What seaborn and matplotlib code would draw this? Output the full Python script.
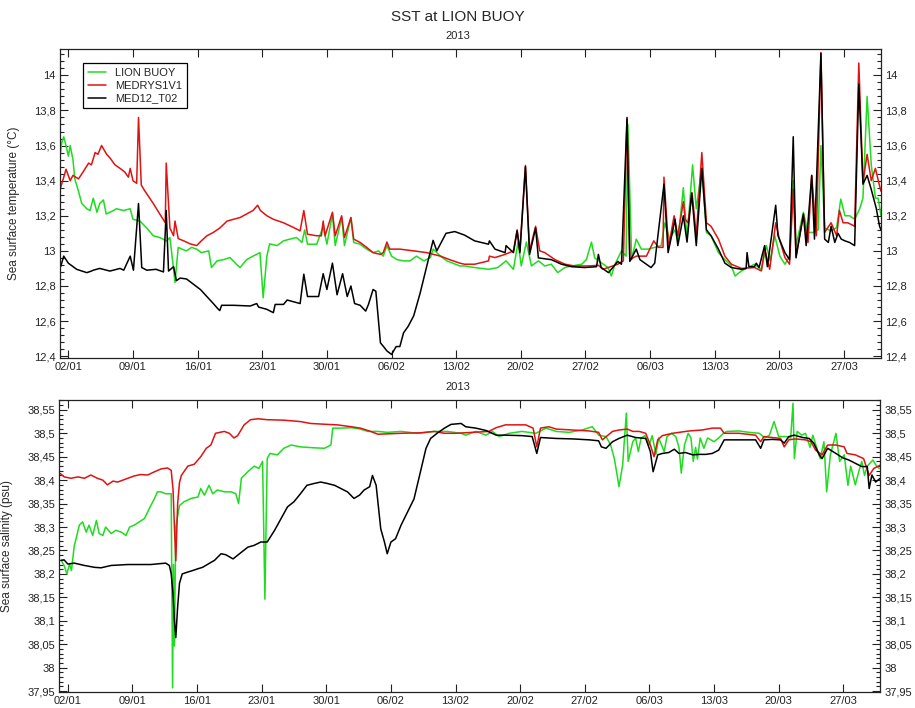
import matplotlib
matplotlib.use("Agg")
import matplotlib.pyplot as plt
import matplotlib.dates as mdates
from matplotlib.ticker import FuncFormatter, MultipleLocator, AutoMinorLocator, FixedLocator
from matplotlib.patches import Rectangle
import pandas as pd
import seaborn as sns

# ---------------------------------------------------------------------------
# Data: time in days since 2013-01-01 00:00, values as read from the series
# ---------------------------------------------------------------------------
series_names = ["LION BUOY", "MEDRYS1V1", "MED12_T02"]
series_colors = ["#1fdc1f", "#e01212", "#000000"]

# Sea surface temperature (deg C)
sst_buoy_day = [0.1, 0.3, 0.5, 0.75, 1.0, 1.2, 1.5, 1.7, 2.1, 2.45, 3.0, 3.35, 3.7, 4.1, 4.4, 4.8, 5.1, 5.9,
                6.2, 7.0, 7.7, 8.0, 8.75, 9.5, 10.2, 10.9, 11.65, 12.0, 12.4, 12.55, 12.9, 13.3, 13.8, 14.35,
                14.9, 15.4, 16.2, 16.5, 17.1, 17.8, 18.5, 19.2, 19.6, 20.3, 21.0, 21.75, 22.1, 22.5, 22.8,
                23.6, 24.3, 25.0, 25.7, 26.3, 26.6, 26.9, 27.9, 28.6, 29.0, 29.6, 29.9, 30.6, 30.9, 31.6,
                31.9, 32.6, 33.3, 34.0, 34.6, 35.1, 35.5, 36.0, 36.6, 37.3, 38.0, 38.7, 39.5, 40.2, 40.5,
                41.3, 42.0, 43.4, 43.9, 45.0, 46.5, 47.5, 48.4, 49.2, 49.7, 50.05, 50.6, 51.15, 51.9, 52.6,
                53.3, 54.0, 54.75, 55.5, 56.6, 57.1, 57.65, 58.0, 58.7, 59.45, 59.8, 60.2, 60.9, 61.4, 61.6,
                62.0, 62.5, 63.05, 63.8, 64.5, 65.2, 65.6, 66.1, 66.7, 67.0, 67.6, 68.0, 68.6, 69.0, 69.6,
                70.1, 70.6, 71.4, 72.1, 72.8, 73.2, 73.9, 74.6, 75.3, 76.05, 76.6, 77.0, 77.5, 78.05, 78.6,
                79.1, 79.5, 79.8, 80.6, 81.1, 81.65, 82.2, 82.5, 82.9, 83.6, 84.2, 84.65, 85.1, 85.6, 86.15,
                86.7, 87.05, 87.5, 87.95, 88.4, 88.7, 89.0]
sst_buoy = [13.54, 13.62, 13.65, 13.6, 13.54, 13.6, 13.52, 13.41, 13.34, 13.27, 13.24, 13.23, 13.3, 13.22,
            13.27, 13.29, 13.21, 13.23, 13.24, 13.23, 13.24, 13.18, 13.17, 13.13, 13.086, 13.076, 13.057,
            13.076, 12.895, 12.82, 13.02, 13.01, 13.0, 13.02, 13.01, 12.99, 13.0, 12.905, 12.943, 12.95,
            12.962, 12.924, 12.905, 12.95, 12.97, 12.99, 12.733, 12.97, 13.04, 13.03, 13.057, 13.067,
            13.076, 13.048, 13.12, 13.038, 13.038, 13.14, 13.038, 13.21, 13.03, 13.19, 13.03, 13.19,
            13.048, 13.038, 13.01, 12.99, 13.0, 12.97, 13.03, 12.97, 12.95, 12.943, 12.943, 12.97, 12.943,
            12.962, 13.01, 12.97, 12.943, 12.914, 12.914, 12.905, 12.895, 12.905, 12.943, 12.895, 13.05,
            12.914, 13.05, 12.914, 12.943, 12.914, 12.924, 12.876, 12.905, 12.914, 12.924, 12.95, 13.05,
            12.96, 12.933, 12.905, 12.857, 12.924, 13.0, 12.97, 13.72, 12.95, 13.067, 13.01, 13.01, 13.02,
            13.03, 13.16, 13.067, 13.12, 13.048, 13.36, 13.067, 13.49, 13.24, 13.47, 13.105, 13.086, 12.99,
            12.95, 12.914, 12.857, 12.886, 12.905, 12.924, 12.895, 13.03, 12.943, 13.086, 12.97, 12.924,
            12.97, 13.4, 13.03, 13.22, 13.105, 13.105, 13.12, 13.6, 13.13, 13.114, 13.133, 13.295, 13.2,
            13.2, 13.18, 13.24, 13.3, 13.88, 13.49, 13.3, 13.3, 13.2]

sst_medrys_day = [0.1, 0.45, 0.75, 1.2, 1.5, 2.1, 2.6, 3.2, 3.5, 3.9, 4.2, 4.6, 5.15, 5.5, 6.05, 6.6, 7.1, 7.5,
                  7.7, 8.0, 8.4, 8.6, 8.9, 9.3, 10.2, 10.9, 11.5, 11.6, 12.0, 12.4, 12.55, 12.9, 13.5, 14.2,
                  14.9, 15.4, 16.0, 16.7, 17.4, 18.2, 18.9, 19.6, 20.3, 21.0, 21.5, 21.8, 22.5, 23.2, 24.3,
                  25.4, 26.1, 26.5, 26.9, 27.9, 28.4, 28.6, 28.8, 29.6, 29.9, 30.6, 30.9, 31.6, 31.9, 32.6,
                  33.3, 34.0, 34.8, 35.1, 35.5, 35.8, 36.9, 38.4, 39.8, 41.3, 42.3, 43.4, 43.9, 45.0, 45.7,
                  46.5, 46.6, 47.2, 48.3, 49.2, 49.6, 49.9, 50.5, 50.95, 51.6, 52.05, 52.6, 53.7, 54.8, 55.8,
                  57.3, 58.4, 58.9, 59.45, 60.5, 61.1, 61.5, 61.8, 62.5, 63.6, 64.4, 64.9, 65.4, 65.5, 66.0,
                  66.6, 67.0, 67.6, 67.8, 68.1, 68.55, 69.0, 69.6, 70.1, 70.6, 71.4, 72.1, 72.8, 73.9, 75.3,
                  76.05, 76.4, 76.95, 77.6, 78.0, 78.6, 79.1, 79.5, 79.8, 80.6, 81.1, 81.5, 82.0, 82.5, 82.9,
                  83.6, 84.2, 84.5, 84.9, 85.4, 85.8, 86.15, 86.6, 87.05, 87.5, 87.95, 88.4, 88.85, 89.0]
sst_medrys = [13.35, 13.41, 13.465, 13.4, 13.43, 13.41, 13.45, 13.5, 13.49, 13.56, 13.55, 13.6, 13.55, 13.53,
              13.49, 13.47, 13.45, 13.42, 13.47, 13.4, 13.385, 13.76, 13.375, 13.34, 13.27, 13.21, 13.16,
              13.5, 13.13, 13.086, 13.17, 13.07, 13.057, 13.04, 13.03, 13.057, 13.086, 13.105, 13.13, 13.17,
              13.18, 13.19, 13.21, 13.23, 13.26, 13.23, 13.2, 13.18, 13.16, 13.133, 13.114, 13.23, 13.095,
              13.086, 13.086, 13.17, 13.086, 13.22, 13.086, 13.2, 13.076, 13.19, 13.067, 13.048, 13.02,
              12.99, 12.98, 12.99, 13.05, 13.01, 13.01, 13.0, 12.99, 12.97, 12.95, 12.93, 12.924, 12.924,
              12.933, 12.943, 12.97, 12.962, 12.98, 13.0, 13.12, 13.0, 13.487, 13.0, 13.14, 13.0, 12.99,
              12.95, 12.924, 12.914, 12.914, 12.918, 12.895, 12.905, 12.924, 12.943, 13.75, 12.95, 12.97,
              12.97, 13.057, 13.02, 13.02, 13.42, 13.02, 13.2, 13.086, 13.28, 13.18, 13.16, 13.33, 13.086,
              13.56, 13.16, 13.14, 13.067, 12.97, 12.924, 12.9, 12.905, 12.886, 13.01, 12.895, 13.16, 13.067,
              12.962, 12.924, 13.35, 12.97, 13.2, 13.048, 13.43, 13.086, 14.13, 13.105, 13.16, 13.086, 13.23,
              13.16, 13.16, 13.15, 13.14, 14.07, 13.39, 13.55, 13.4, 13.47, 13.37, 13.34]

sst_med12_day = [0.17, 0.5, 1.0, 1.9, 3.0, 3.5, 3.7, 4.4, 5.5, 6.6, 7.0, 7.7, 8.05, 8.6, 8.95, 9.5, 10.5, 11.3,
                 11.6, 11.85, 12.4, 12.7, 13.1, 13.8, 15.3, 16.0, 16.7, 17.2, 17.4, 17.6, 18.9, 20.7, 21.4,
                 21.6, 22.5, 23.2, 23.4, 24.3, 24.7, 26.1, 26.5, 26.9, 28.1, 28.6, 29.0, 29.6, 30.1, 30.7,
                 31.2, 31.6, 32.0, 32.6, 33.2, 33.5, 34.0, 34.3, 34.8, 35.1, 35.5, 36.0, 36.5, 36.9, 37.3,
                 37.8, 38.4, 39.1, 39.8, 40.5, 40.9, 41.9, 42.85, 43.9, 45.0, 46.5, 46.6, 47.2, 48.3, 48.4,
                 49.2, 49.6, 49.9, 50.5, 50.95, 51.6, 51.9, 53.3, 54.4, 55.5, 56.9, 58.2, 58.4, 58.7, 59.5,
                 59.8, 60.5, 60.9, 61.5, 61.8, 62.5, 62.9, 64.1, 64.5, 65.5, 65.95, 66.7, 67.0, 67.6, 68.0,
                 68.5, 69.0, 69.6, 70.1, 70.6, 71.4, 72.1, 72.8, 73.9, 74.4, 74.5, 74.7, 75.3, 75.5, 75.8,
                 76.4, 76.7, 77.6, 77.85, 78.6, 79.1, 79.5, 79.8, 80.6, 80.9, 81.5, 81.8, 82.5, 82.9, 83.3,
                 83.6, 84.0, 84.35, 84.7, 85.1, 85.6, 86.15, 86.6, 87.05, 87.5, 87.95, 88.5, 88.85, 89.0]
sst_med12 = [12.91, 12.97, 12.93, 12.895, 12.876, 12.885, 12.89, 12.9, 12.885, 12.9, 12.89, 12.97, 12.89,
             13.27, 12.905, 12.89, 12.895, 12.88, 13.23, 12.885, 12.91, 12.83, 12.845, 12.84, 12.78, 12.74,
             12.7, 12.67, 12.66, 12.69, 12.69, 12.686, 12.7, 12.68, 12.667, 12.648, 12.695, 12.695, 12.72,
             12.7, 12.867, 12.74, 12.74, 12.87, 12.78, 12.93, 12.75, 12.87, 12.74, 12.8, 12.7, 12.69,
             12.657, 12.695, 12.78, 12.77, 12.476, 12.457, 12.43, 12.41, 12.455, 12.455, 12.533, 12.57,
             12.63, 12.76, 12.91, 13.06, 13.0, 13.1, 13.11, 13.09, 13.057, 13.038, 13.057, 13.01, 12.99,
             13.03, 12.99, 13.114, 12.99, 13.48, 12.98, 13.13, 12.96, 12.95, 12.924, 12.91, 12.905, 12.91,
             12.98, 12.905, 12.876, 12.895, 12.94, 12.924, 13.76, 12.94, 13.01, 12.95, 12.905, 12.93, 13.38,
             12.99, 13.18, 13.03, 13.2, 13.05, 13.33, 13.03, 13.47, 13.12, 13.086, 13.01, 12.93, 12.905,
             12.895, 12.9, 12.99, 12.91, 12.91, 12.93, 12.905, 13.03, 12.91, 13.26, 13.086, 12.99, 12.95,
             13.65, 12.96, 13.21, 13.03, 13.43, 13.067, 14.125, 13.067, 13.048, 13.14, 13.048, 13.1, 13.067,
             13.057, 13.048, 13.03, 13.95, 13.38, 13.43, 13.35, 13.24, 13.14, 13.12]

# Sea surface salinity (psu)
sss_buoy_day = [0.27, 0.6, 0.9, 1.2, 1.4, 1.7, 1.9, 2.25, 2.6, 3.0, 3.3, 3.7, 4.1, 4.4, 4.8, 5.1, 5.7, 6.2, 6.8,
                7.3, 7.7, 8.2, 8.75, 9.3, 9.65, 10.0, 10.4, 10.7, 11.1, 11.6, 12.2, 12.35, 12.45, 12.55, 12.7,
                13.1, 13.6, 14.35, 15.1, 15.4, 15.8, 16.3, 16.7, 17.2, 18.0, 18.7, 19.2, 19.5, 19.8, 20.5,
                21.2, 21.7, 22.1, 22.35, 22.6, 22.9, 23.7, 24.4, 25.2, 26.2, 27.7, 28.8, 29.5, 29.7, 30.6,
                31.7, 32.7, 33.5, 34.6, 35.6, 37.1, 38.9, 40.7, 42.1, 43.6, 44.1, 45.2, 46.3, 47.0, 47.7,
                48.8, 50.2, 51.7, 52.8, 53.9, 55.3, 56.7, 57.8, 58.2, 58.5, 59.3, 59.8, 60.2, 60.5, 60.7,
                61.1, 61.25, 61.5, 61.7, 62.2, 62.5, 62.8, 63.1, 63.5, 63.96, 64.3, 64.7, 65.0, 65.6, 65.9,
                66.4, 66.85, 67.2, 67.45, 67.8, 68.2, 68.5, 68.75, 69.0, 69.2, 69.5, 69.9, 70.3, 71.0, 71.5,
                72.0, 72.4, 73.7, 74.8, 75.9, 76.5, 77.0, 77.5, 78.0, 78.8, 79.3, 79.55, 79.7, 80.0, 80.5,
                80.9, 81.4, 81.7, 82.2, 82.5, 82.9, 83.2, 83.6, 84.2, 84.6, 85.1, 85.5, 85.8, 86.3, 86.7,
                87.0, 87.3, 87.6, 88.2, 88.6, 88.9]
sss_buoy = [38.229, 38.218, 38.2, 38.221, 38.207, 38.26, 38.275, 38.304, 38.311, 38.289, 38.304, 38.282,
            38.314, 38.286, 38.282, 38.3, 38.286, 38.293, 38.289, 38.282, 38.3, 38.304, 38.311, 38.318,
            38.332, 38.346, 38.361, 38.375, 38.375, 38.371, 38.371, 37.957, 38.22, 38.046, 38.3, 38.346,
            38.354, 38.361, 38.364, 38.382, 38.368, 38.389, 38.371, 38.379, 38.375, 38.375, 38.371, 38.35,
            38.404, 38.418, 38.43, 38.425, 38.44, 38.146, 38.446, 38.457, 38.454, 38.468, 38.475, 38.471,
            38.469, 38.468, 38.475, 38.511, 38.511, 38.512, 38.509, 38.504, 38.504, 38.502, 38.504, 38.5,
            38.504, 38.504, 38.5, 38.496, 38.504, 38.496, 38.504, 38.493, 38.5, 38.504, 38.5, 38.511,
            38.504, 38.502, 38.507, 38.514, 38.504, 38.496, 38.493, 38.475, 38.446, 38.411, 38.386, 38.432,
            38.475, 38.543, 38.44, 38.482, 38.49, 38.461, 38.49, 38.495, 38.475, 38.495, 38.455, 38.49,
            38.461, 38.493, 38.5, 38.493, 38.47, 38.415, 38.475, 38.5, 38.49, 38.44, 38.47, 38.445, 38.49,
            38.468, 38.49, 38.482, 38.49, 38.5, 38.504, 38.505, 38.502, 38.5, 38.49, 38.496, 38.525,
            38.493, 38.493, 38.49, 38.564, 38.446, 38.504, 38.496, 38.5, 38.47, 38.496, 38.464, 38.446,
            38.482, 38.375, 38.454, 38.5, 38.44, 38.454, 38.389, 38.43, 38.39, 38.42, 38.44, 38.41, 38.43,
            38.443, 38.43, 38.425]

sss_medrys_day = [0.2, 0.6, 1.35, 2.1, 2.8, 3.5, 4.2, 4.8, 5.3, 5.9, 6.4, 7.5, 8.2, 8.9, 9.65, 10.4, 11.1, 11.8,
                  12.2, 12.4, 12.55, 12.7, 12.9, 13.1, 13.3, 14.0, 14.7, 15.4, 16.0, 16.5, 17.0, 17.95, 18.5,
                  19.0, 19.4, 20.1, 20.8, 21.6, 22.6, 24.4, 26.2, 27.3, 29.1, 30.2, 31.7, 32.7, 33.8, 34.6,
                  37.1, 39.2, 40.7, 41.8, 43.03, 46.6, 47.4, 48.4, 49.5, 50.6, 51.4, 51.8, 52.2, 53.1, 53.9,
                  55.7, 57.5, 58.5, 58.9, 59.45, 60.0, 60.7, 61.6, 62.2, 62.9, 63.6, 64.1, 64.5, 64.9, 65.4,
                  66.5, 68.3, 69.7, 70.8, 71.7, 72.1, 73.7, 75.5, 76.05, 76.4, 77.3, 78.2, 78.6, 79.1, 79.8,
                  80.9, 81.5, 82.0, 82.7, 83.3, 84.2, 85.1, 85.4, 86.3, 87.2, 87.8, 88.3, 89.0]
sss_medrys = [38.414, 38.407, 38.404, 38.407, 38.404, 38.411, 38.404, 38.4, 38.39, 38.398, 38.396, 38.404,
              38.409, 38.412, 38.411, 38.418, 38.424, 38.426, 38.421, 38.38, 38.3, 38.228, 38.35, 38.395,
              38.41, 38.43, 38.434, 38.45, 38.468, 38.475, 38.5, 38.504, 38.5, 38.49, 38.495, 38.518,
              38.529, 38.531, 38.529, 38.528, 38.525, 38.521, 38.519, 38.518, 38.514, 38.511, 38.504,
              38.498, 38.5, 38.501, 38.504, 38.5, 38.5, 38.504, 38.512, 38.518, 38.518, 38.518, 38.511,
              38.471, 38.511, 38.514, 38.509, 38.507, 38.505, 38.502, 38.486, 38.495, 38.504, 38.507,
              38.509, 38.504, 38.504, 38.5, 38.475, 38.45, 38.486, 38.495, 38.5, 38.505, 38.507, 38.511,
              38.511, 38.5, 38.5, 38.496, 38.482, 38.493, 38.491, 38.489, 38.471, 38.486, 38.488, 38.486,
              38.482, 38.464, 38.454, 38.475, 38.475, 38.471, 38.457, 38.454, 38.446, 38.41, 38.425, 38.432]

sss_med12_day = [0.27, 0.6, 1.0, 1.7, 2.8, 3.9, 4.6, 5.7, 7.5, 10.0, 11.6, 12.0, 12.2, 12.4, 12.55, 12.7, 12.9,
                 13.1, 13.4, 14.0, 14.5, 15.1, 15.6, 16.2, 16.9, 17.4, 17.6, 18.1, 18.9, 19.6, 20.5, 21.2,
                 21.9, 22.6, 23.4, 24.1, 24.8, 25.5, 26.2, 26.9, 27.7, 28.4, 29.1, 29.9, 30.6, 31.3, 32.0,
                 32.6, 33.1, 33.7, 34.0, 34.4, 34.9, 35.3, 35.6, 36.0, 36.5, 37.1, 37.8, 38.5, 39.2, 39.8,
                 40.3, 41.0, 41.8, 42.5, 43.6, 44.1, 45.2, 46.3, 47.4, 48.4, 50.2, 51.3, 51.8, 52.2, 53.9,
                 55.7, 57.5, 58.5, 58.8, 59.3, 60.0, 60.7, 61.6, 62.5, 63.6, 64.1, 64.4, 64.9, 65.4, 66.1,
                 66.7, 67.2, 67.9, 68.7, 69.4, 70.1, 70.8, 71.5, 72.1, 73.7, 75.5, 76.05, 76.4, 77.3, 78.2,
                 78.6, 79.1, 79.7, 80.6, 81.3, 81.8, 82.4, 82.7, 83.3, 84.2, 84.9, 85.6, 86.3, 87.0, 87.6,
                 87.8, 88.1, 88.5, 89.0]
sss_med12 = [38.229, 38.23, 38.221, 38.223, 38.218, 38.214, 38.213, 38.218, 38.22, 38.22, 38.223, 38.218,
             38.2, 38.157, 38.1, 38.064, 38.13, 38.18, 38.2, 38.204, 38.207, 38.211, 38.214, 38.221, 38.229,
             38.239, 38.243, 38.241, 38.232, 38.243, 38.257, 38.261, 38.268, 38.268, 38.293, 38.318, 38.343,
             38.354, 38.371, 38.389, 38.393, 38.396, 38.393, 38.389, 38.382, 38.375, 38.361, 38.368, 38.379,
             38.386, 38.41, 38.389, 38.296, 38.268, 38.243, 38.268, 38.275, 38.304, 38.332, 38.36, 38.418,
             38.468, 38.489, 38.5, 38.511, 38.519, 38.521, 38.514, 38.511, 38.506, 38.496, 38.496, 38.495,
             38.493, 38.457, 38.491, 38.489, 38.488, 38.486, 38.484, 38.471, 38.468, 38.482, 38.489, 38.496,
             38.491, 38.489, 38.461, 38.418, 38.454, 38.457, 38.459, 38.466, 38.457, 38.459, 38.454, 38.455,
             38.455, 38.457, 38.464, 38.486, 38.486, 38.486, 38.468, 38.486, 38.487, 38.486, 38.479, 38.493,
             38.496, 38.491, 38.489, 38.479, 38.454, 38.446, 38.468, 38.457, 38.448, 38.443, 38.436, 38.429,
             38.429, 38.382, 38.411, 38.396, 38.404]

tick_dates = ["02/01", "09/01", "16/01", "23/01", "30/01", "06/02", "13/02",
              "20/02", "27/02", "06/03", "13/03", "20/03", "27/03"]

# ---------------------------------------------------------------------------
START = pd.Timestamp("2013-01-01")


def long_frame(days_list, values_list):
    frames = []
    for name, days, values in zip(series_names, days_list, values_list):
        frames.append(pd.DataFrame({
            "date": START + pd.to_timedelta(days, unit="D"),
            "value": values,
            "source": name,
        }))
    return pd.concat(frames, ignore_index=True)


sst_df = long_frame([sst_buoy_day, sst_medrys_day, sst_med12_day], [sst_buoy, sst_medrys, sst_med12])
sss_df = long_frame([sss_buoy_day, sss_medrys_day, sss_med12_day], [sss_buoy, sss_medrys, sss_med12])

sns.set_theme(style="ticks")
plt.rcParams["font.family"] = ["Liberation Sans", "DejaVu Sans"]

fig = plt.figure(figsize=(9.15, 7.08), dpi=100)
ax_t = fig.add_axes([0.0656, 0.4944, 0.8972, 0.4364])
ax_b = fig.add_axes([0.0650, 0.0226, 0.8970, 0.4124])


def comma_fmt(v, pos):
    return f"{v:.2f}".rstrip("0").rstrip(".").replace(".", ",")


tick_pos = mdates.date2num([pd.Timestamp(f"2013-{d[3:]}-{d[:2]}") for d in tick_dates])
x_lo = START + pd.Timedelta(days=0.1)
x_hi = START + pd.Timedelta(days=89.0)

for ax, df in ((ax_t, sst_df), (ax_b, sss_df)):
    sns.lineplot(data=df, x="date", y="value", hue="source", hue_order=series_names,
                 palette=series_colors, estimator=None, linewidth=1.1, ax=ax, legend=False)
    ax.set_xlim(x_lo, x_hi)
    ax.xaxis.set_major_locator(FixedLocator(tick_pos))
    ax.xaxis.set_major_formatter(mdates.DateFormatter("%d/%m"))
    ax.yaxis.set_major_formatter(FuncFormatter(comma_fmt))
    ax.yaxis.set_minor_locator(AutoMinorLocator(5))
    ax.tick_params(which="both", direction="in", top=True, right=True, labelright=True,
                   labelsize=8, colors="#222222", width=0.8, pad=3)
    ax.tick_params(which="major", length=6)
    ax.tick_params(which="minor", length=3)
    ax.set_xlabel("")
    for s in ax.spines.values():
        s.set_linewidth(0.9)
        s.set_color("#222222")

ax_t.set_ylim(12.39, 14.15)
ax_t.yaxis.set_major_locator(MultipleLocator(0.2))
ax_t.set_ylabel("Sea surface temperature (°C)", fontsize=8.5)
ax_t.yaxis.set_label_coords(-0.0487, 0.5)

ax_b.set_ylim(37.948, 38.571)
ax_b.yaxis.set_major_locator(MultipleLocator(0.05))
ax_b.set_ylabel("Sea surface salinity (psu)", fontsize=8.5)
ax_b.yaxis.set_label_coords(-0.0564, 0.5)

leg = ax_t.legend(ax_t.get_lines()[:3], series_names, loc="upper left",
                  bbox_to_anchor=(0.028, 0.955), borderaxespad=0, fontsize=8,
                  frameon=True, fancybox=False, framealpha=1, edgecolor="black",
                  handlelength=1.6, handletextpad=0.8, labelspacing=0.25, borderpad=0.45)
leg.get_frame().set_linewidth(0.9)

fig.text(0.5, 1 - 17 / 708, "SST at LION BUOY", ha="center", va="center", fontsize=11)
fig.text(0.5, 1 - 36 / 708, "2013", ha="center", va="center", fontsize=8)

# lower panel title, largely hidden behind the upper panel's date labels
fig.text(0.5, 1 - 368 / 708, "SSS at LION BUOY", ha="center", va="center", fontsize=11, zorder=-2)
fig.patches.append(Rectangle((0, 1 - 373 / 708), 1, 20 / 708, transform=fig.transFigure,
                             facecolor="white", edgecolor="none", zorder=-1))
fig.text(0.5, 1 - 387 / 708, "2013", ha="center", va="center", fontsize=8)

fig.savefig("out.png", dpi=100, facecolor="white")
